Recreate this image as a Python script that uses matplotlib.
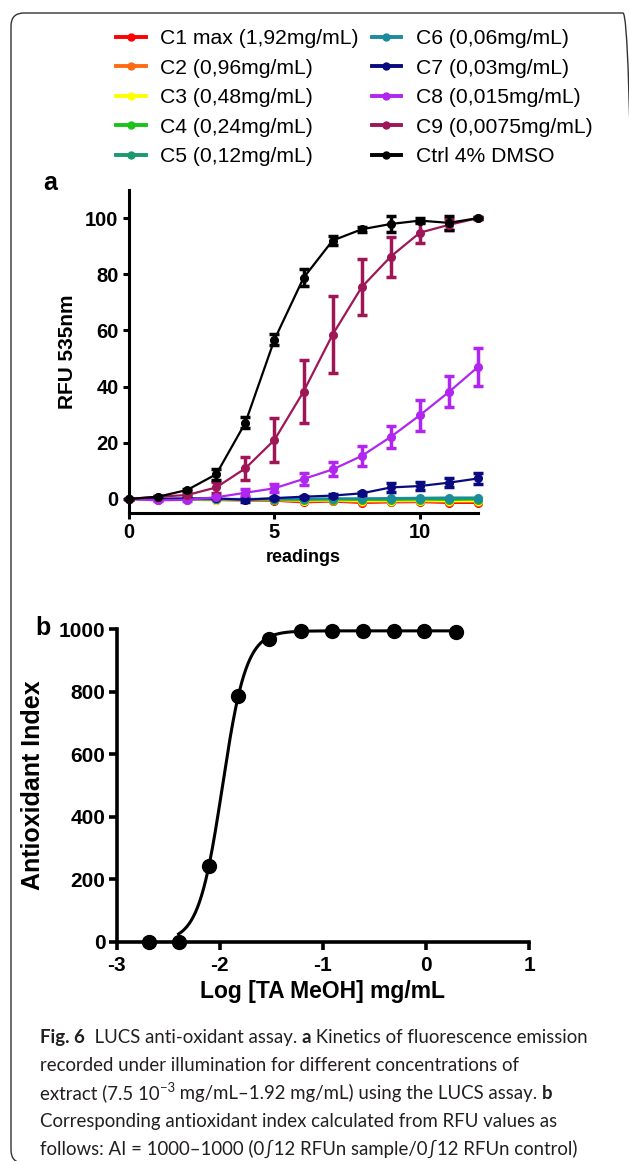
import numpy as np
import matplotlib
matplotlib.use("Agg")
import matplotlib.pyplot as plt
from matplotlib.patches import FancyBboxPatch
from matplotlib.lines import Line2D

plt.rcParams['font.family'] = ['Liberation Sans', 'DejaVu Sans']
plt.rcParams['axes.unicode_minus'] = False

W, H = 629, 1161

# ---- panel a: kinetics (RFU 535nm vs readings) ----
readings = np.arange(13)
labels = ['C1 max (1,92mg/mL)', 'C2 (0,96mg/mL)', 'C3 (0,48mg/mL)', 'C4 (0,24mg/mL)',
          'C5 (0,12mg/mL)', 'C6 (0,06mg/mL)', 'C7 (0,03mg/mL)', 'C8 (0,015mg/mL)',
          'C9 (0,0075mg/mL)', 'Ctrl 4% DMSO']
colors = ['#ff0000', '#ff6a13', '#ffff00', '#18c418', '#1a9a6c', '#1a8c9c',
          '#0a0a80', '#b026f0', '#9e1656', '#000000']

c1 = [0, -0.2, -0.3, -0.4, -0.5, -0.6, -1.2, -0.9, -1.4, -1.2, -1.1, -1.4, -1.4]
c2 = [0, -0.2, -0.2, -0.3, -0.4, -0.5, -0.9, -0.7, -1.1, -1.0, -0.9, -1.1, -1.1]
c3 = [0, -0.1, -0.2, -0.2, -0.3, -0.3, -0.6, -0.5, -0.7, -0.6, -0.6, -0.7, -0.7]
c4 = [0, -0.1, -0.1, -0.1, -0.2, -0.2, -0.3, -0.2, -0.3, -0.3, -0.2, -0.3, -0.2]
c5 = [0, -0.1, -0.1, -0.1, -0.1, -0.1, -0.1, 0, 0, 0, 0.1, 0.1, 0.1]
c6 = [0, -0.1, 0, 0, 0, 0.1, 0.1, 0.2, 0.2, 0.3, 0.4, 0.5, 0.5]
c7 = [0, 0.1, 0.2, 0.2, -0.3, 0.3, 0.8, 1.2, 2.0, 4.1, 4.6, 5.8, 7.3]
c8 = [0, -0.5, -0.3, 0.6, 2.2, 3.8, 7.1, 10.5, 15.3, 22.1, 29.8, 38.1, 47.0]
c9 = [0, 0.8, 1.4, 4.1, 10.9, 21.0, 38.2, 58.5, 75.4, 86.3, 94.8, 97.6, 100]
ctrl = [0, 0.8, 3.2, 8.8, 27.1, 56.7, 78.7, 92.0, 96.0, 97.9, 99.1, 98.3, 100]

err_c7 = [0, 0, 0, 0, 0.8, 0.4, 0.4, 0.4, 0.5, 1.5, 1.5, 1.7, 2.0]
err_c8 = [0, 0.3, 0.3, 0.5, 1.2, 1.5, 2.0, 2.5, 3.5, 4.0, 5.5, 5.5, 6.8]
err_c9 = [0, 0.3, 0.5, 2.0, 4.0, 8.0, 11.3, 13.6, 10.0, 7.1, 3.7, 2.0, 0.5]
err_ctrl = [0, 0.3, 0.5, 2.0, 2.0, 2.0, 3.0, 1.5, 0.8, 3.0, 0.8, 2.5, 0.5]

series = [c1, c2, c3, c4, c5, c6, c7, c8, c9, ctrl]
errors = [None, None, None, None, None, None, err_c7, err_c8, err_c9, err_ctrl]

# ---- panel b: antioxidant index ----
log_conc = [-2.69, -2.40, -2.11, -1.82, -1.52, -1.21, -0.91, -0.61, -0.31, -0.02, 0.29]
antiox_index = [0, 0, 242, 785, 968, 993, 995, 994, 994, 995, 990]

fig = plt.figure(figsize=(W / 100, H / 100), dpi=100)


def px_axes(x0, y0, x1, y1):
    # axes rectangle given in image pixels (top-left origin)
    return fig.add_axes([x0 / W, (H - y1) / H, (x1 - x0) / W, (y1 - y0) / H])


def style_axes(ax, lw, ticklen, size, pad=3):
    for s in ['top', 'right']:
        ax.spines[s].set_visible(False)
    for s in ['left', 'bottom']:
        ax.spines[s].set_linewidth(lw)
    ax.tick_params(direction='out', length=ticklen, width=lw, labelsize=size, pad=pad)
    for lab in ax.get_xticklabels() + ax.get_yticklabels():
        lab.set_fontweight('bold')


# panel a
ax1 = px_axes(129, 190, 478, 513)
handles = []
for y, e, col, lab in zip(series, errors, colors, labels):
    if e is None:
        ax1.plot(readings, y, '-o', color=col, lw=1.6, ms=5.5, clip_on=False)
    else:
        ax1.errorbar(readings, y, yerr=e, fmt='-o', color=col, lw=1.6, ms=5.5,
                     elinewidth=2.5, capsize=3.5, capthick=2.5, clip_on=False)
    handles.append(Line2D([], [], color=col, marker='o', lw=2.8, ms=5, label=lab))
ax1.set_xlim(0, 12)
ax1.set_ylim(-5, 110)
ax1.set_xticks([0, 5, 10])
ax1.set_yticks([0, 20, 40, 60, 80, 100])
ax1.set_xlabel('readings', fontsize=13, fontweight='bold', labelpad=5)
ax1.set_ylabel('RFU 535nm', fontsize=15, fontweight='bold', labelpad=6)
style_axes(ax1, 2.2, 4.5, 14.5)

# panel b
ax2 = px_axes(116.7, 629.3, 529.3, 941.7)
xs = np.array(log_conc)
ys = np.array(antiox_index, dtype=float)
top = ys.max()
best = None
for ec in np.linspace(-2.5, -1.5, 201):
    for h in np.linspace(1, 8, 141):
        pred = top / (1 + 10 ** ((ec - xs) * h))
        sse = ((pred - ys) ** 2).sum()
        if best is None or sse < best[0]:
            best = (sse, ec, h)
xfit = np.linspace(xs[1], xs[-1], 400)
yfit = top / (1 + 10 ** ((best[1] - xfit) * best[2]))
ax2.plot(xfit, yfit, color='black', lw=2.2, clip_on=False)
ax2.plot(xs, ys, 'o', color='black', ms=10, clip_on=False)
ax2.set_xlim(-3, 1)
ax2.set_ylim(0, 1000)
ax2.set_xticks([-3, -2, -1, 0, 1])
ax2.set_yticks([0, 200, 400, 600, 800, 1000])
ax2.set_xlabel('Log [TA MeOH] mg/mL', fontsize=16.5, fontweight='bold', labelpad=4)
ax2.set_ylabel('Antioxidant Index', fontsize=18, fontweight='bold', labelpad=10)
style_axes(ax2, 2.6, 6, 15, pad=2)
ax2.tick_params(axis='x', pad=4)

# legend
fig.legend(handles=handles, ncol=2, loc='upper left', frameon=False,
           bbox_to_anchor=(116 / W, 1 - 29 / H), borderaxespad=0, borderpad=0,
           fontsize=15.2, handlelength=1.4, handletextpad=0.7,
           columnspacing=0.6, labelspacing=0.5)

# panel letters
fig.text(43 / W, 1 - 183 / H, 'a', fontsize=18, fontweight='bold', va='center')
fig.text(35 / W, 1 - 628 / H, 'b', fontsize=18, fontweight='bold', va='center')

# caption
renderer = fig.canvas.get_renderer()
cap_font = ['Lato', 'DejaVu Sans']
cap_size = 13.4


def text_width(txt, **kw):
    a = fig.text(0, 0, 'x' + txt + 'x', **kw)
    b = fig.text(0, 0, 'xx', **kw)
    w = a.get_window_extent(renderer).width - b.get_window_extent(renderer).width
    a.remove()
    b.remove()
    return w


def caption_line(y, parts):
    x = 40
    for txt, bold, size, dy in parts:
        kw = dict(family=cap_font, fontsize=size, fontweight='bold' if bold else 'normal')
        fig.text(x / W, (H - y + dy) / H, txt, va='baseline', color='#231f20', **kw)
        x += text_width(txt, **kw)


caption_line(1043, [('Fig. 6', True, cap_size, 0),
                    ('  LUCS anti-oxidant assay. ', False, cap_size, 0),
                    ('a', True, cap_size, 0),
                    (' Kinetics of fluorescence emission', False, cap_size, 0)])
caption_line(1071, [('recorded under illumination for different concentrations of', False, cap_size, 0)])
caption_line(1099, [('extract (7.5 10', False, cap_size, 0),
                    ('\u22123', False, cap_size * 0.7, 7),
                    (' mg/mL\u20131.92 mg/mL) using the LUCS assay. ', False, cap_size, 0),
                    ('b', True, cap_size, 0)])
caption_line(1127, [('Corresponding antioxidant index calculated from RFU values as', False, cap_size, 0)])
caption_line(1155, [('follows: AI = 1000\u20131000 (0\u222b12 RFUn sample/0\u222b12 RFUn control)',
                     False, cap_size, 0)])

# rounded frame around the figure
frame = FancyBboxPatch((11 / 100, (H - 1163) / 100), (636 - 11) / 100, (1163 - 13) / 100,
                       boxstyle='round,pad=0,rounding_size=0.13',
                       transform=fig.dpi_scale_trans, fill=False, ec='#333333', lw=1.0)
fig.patches.append(frame)

fig.savefig('out.png', dpi=100)
